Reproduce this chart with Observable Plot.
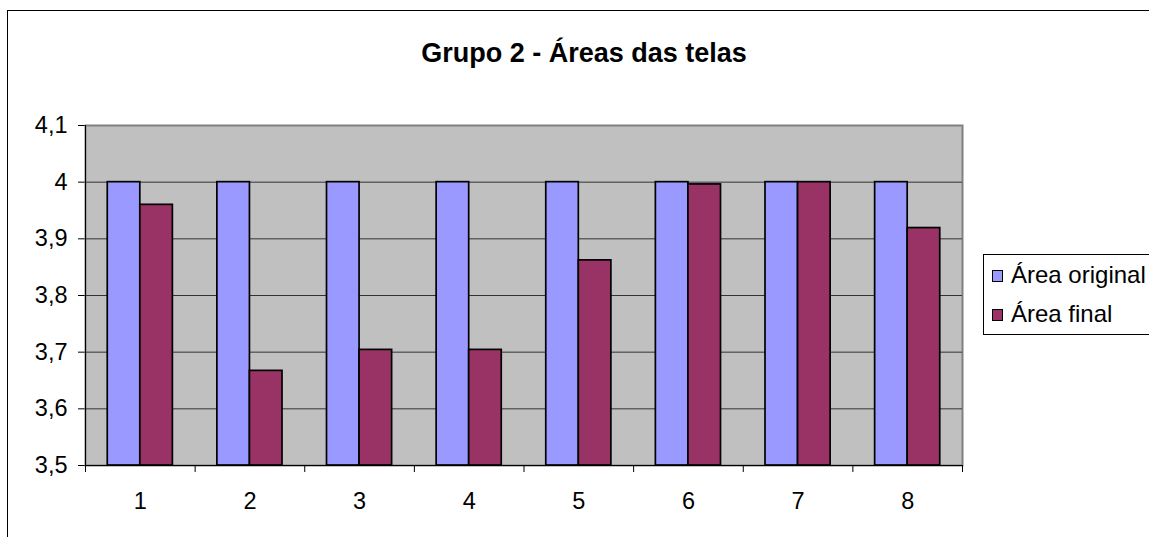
<!DOCTYPE html>
<html>
<head>
<meta charset="utf-8">
<script src="https://cdn.jsdelivr.net/npm/d3@7"></script>
<script src="https://cdn.jsdelivr.net/npm/@observablehq/plot@0.6"></script>
<style>
  html, body { margin: 0; padding: 0; background: #fff; overflow: hidden; }
  #wrap { position: relative; width: 1149px; height: 537px; overflow: hidden; font-family: "Liberation Sans", Arial, sans-serif; }
  #frame { position: absolute; left: 7px; top: 10px; width: 2000px; height: 2000px; border-left: 1.5px solid #000; border-top: 1.5px solid #000; }
  #chart { position: absolute; left: 0; top: 0; }
  #title { position: absolute; left: 0; width: 1168px; top: 40px; text-align: center; font-weight: bold; font-size: 27px; line-height: 27px; color: #000; }
  #legend { position: absolute; left: 983px; top: 254px; width: 300px; height: 79px; border: 1px solid #000; background: #fff; }
  .item { position: absolute; left: 0; font-size: 24px; line-height: 24px; color: #000; white-space: nowrap; }
  .sw { position: absolute; left: 8px; width: 9px; height: 10px; border: 1px solid #000; }
  .lab { position: absolute; left: 27px; top: 0; }
</style>
</head>
<body>
<div id="wrap">
  <div id="frame"></div>
  <div id="chart"></div>
  <div id="title"></div>
  <div id="legend"></div>
</div>
<script>
const chartTitle = "Grupo 2 - Áreas das telas";
const categories = ["1", "2", "3", "4", "5", "6", "7", "8"];
const seriesNames = ["Área original", "Área final"];
const areaOriginal = [4, 4, 4, 4, 4, 4, 4, 4];
const areaFinal = [3.96, 3.667, 3.704, 3.704, 3.862, 3.996, 4.0, 3.919];
const seriesColors = ["#9999FF", "#993366"];
const yDomain = [3.5, 4.1];
const yTicks = [3.5, 3.6, 3.7, 3.8, 3.9, 4.0, 4.1];
const yTickLabels = ["3,5", "3,6", "3,7", "3,8", "3,9", "4", "4,1"];

const W = 1149, H = 537;
const mL = 85, mR = 187, mT = 125, mB = 72;
const step = (W - mL - mR) / categories.length;
const outer = step * 0.203;
const barW = step * 0.297;

const rows = categories.map((c, i) => ({cat: c, orig: areaOriginal[i], fin: areaFinal[i]}));
const base = () => yDomain[0];

const fmt = d => {
  const i = yTicks.findIndex(t => Math.abs(t - d) < 1e-9);
  return i >= 0 ? yTickLabels[i] : "";
};

const plot = Plot.plot({
  width: W, height: H,
  marginLeft: mL, marginRight: mR, marginTop: mT, marginBottom: mB,
  style: {fontFamily: "'Liberation Sans', Arial, sans-serif", fontSize: "23.5px", background: "transparent", color: "#000"},
  x: {domain: categories, padding: 0, round: false, tickSize: 0, tickPadding: 27, label: null},
  y: {domain: yDomain, ticks: yTicks, tickFormat: fmt, tickSize: 7, tickPadding: 11, label: null},
  marks: [
    Plot.frame({fill: "#C0C0C0", stroke: "#808080", strokeWidth: 2}),
    Plot.ruleY(yTicks.slice(1, -1), {stroke: "#333", strokeWidth: 1}),
    Plot.barY(rows, {x: "cat", y1: base, y2: "orig", fill: seriesColors[0], stroke: "#000", strokeWidth: 1.7,
      insetLeft: outer, insetRight: step - outer - barW}),
    Plot.barY(rows, {x: "cat", y1: base, y2: "fin", fill: seriesColors[1], stroke: "#000", strokeWidth: 1.7,
      insetLeft: outer + barW, insetRight: outer}),
    Plot.ruleY([yDomain[0]], {stroke: "#000", strokeWidth: 1}),
    Plot.ruleX([categories[0]], {x: d => d, dx: -step / 2, y1: () => yDomain[0], y2: () => yDomain[1], stroke: "#000", strokeWidth: 1}),
    Plot.ruleX(categories, {x: d => d, dx: -step / 2, y1: base, y2: base, insetBottom: -7, stroke: "#000", strokeWidth: 1}),
    Plot.ruleX([categories[categories.length - 1]], {x: d => d, dx: step / 2, y1: base, y2: base, insetBottom: -7, stroke: "#000", strokeWidth: 1})
  ]
});
document.getElementById("chart").appendChild(plot);

document.getElementById("title").textContent = chartTitle;

const legend = document.getElementById("legend");
seriesNames.forEach((name, i) => {
  const item = document.createElement("div");
  item.className = "item";
  item.style.top = (8 + i * 39) + "px";
  const sw = document.createElement("div");
  sw.className = "sw";
  sw.style.top = "7px";
  sw.style.background = seriesColors[i];
  const lab = document.createElement("div");
  lab.className = "lab";
  lab.textContent = name;
  item.appendChild(sw);
  item.appendChild(lab);
  legend.appendChild(item);
});
</script>
</body>
</html>
